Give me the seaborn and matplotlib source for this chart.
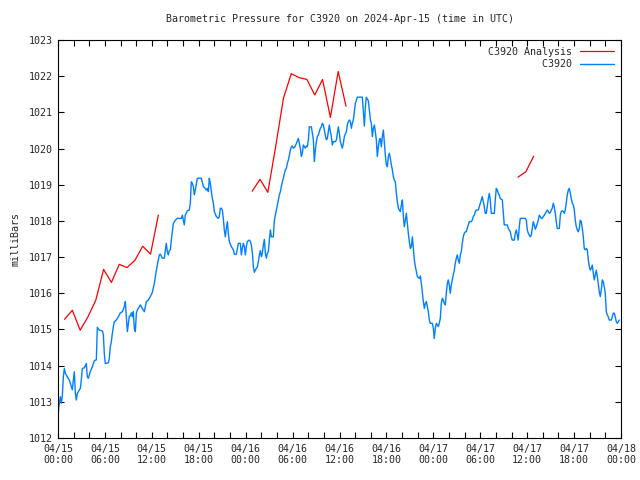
import numpy as np
import pandas as pd
import matplotlib
matplotlib.use("Agg")
import matplotlib.pyplot as plt
import matplotlib.dates as mdates
from matplotlib.ticker import MultipleLocator
import seaborn as sns

# DATA (hours after 2024-04-15 00:00 UTC, pressure in mb)
obs_hours = [
    0.04, 0.17, 0.30, 0.43, 0.55, 0.68, 0.81, 0.94, 1.19, 1.45, 1.70, 1.83, 1.96, 2.09, 2.22, 2.34,
    2.47, 2.73, 2.86, 2.98, 3.11, 3.37, 3.62, 3.75, 3.88, 4.13, 4.39, 4.52, 4.65, 4.90, 5.03, 5.29,
    5.67, 5.80, 5.92, 6.05, 6.44, 6.56, 6.69, 6.82, 6.95, 7.08, 7.20, 7.46, 7.72, 7.97, 8.23, 8.48,
    8.61, 8.74, 8.87, 9.00, 9.12, 9.25, 9.38, 9.51, 9.63, 9.76, 9.89, 10.02, 10.15, 10.40, 10.53,
    10.78, 11.04, 11.17, 11.30, 11.55, 11.81, 12.06, 12.19, 12.32, 12.45, 12.58, 12.70, 12.83,
    12.96, 13.09, 13.34, 13.60, 13.73, 13.85, 13.98, 14.11, 14.24, 14.37, 14.49, 14.62, 14.75,
    15.01, 15.26, 15.52, 15.77, 15.90, 16.03, 16.15, 16.28, 16.54, 16.79, 16.92, 17.05, 17.18,
    17.31, 17.43, 17.56, 17.82, 18.33, 18.59, 18.84, 18.97, 19.10, 19.23, 19.35, 19.48, 19.61,
    19.74, 19.87, 19.99, 20.25, 20.50, 20.63, 20.76, 20.89, 21.02, 21.14, 21.27, 21.40, 21.53,
    21.66, 21.78, 21.91, 22.17, 22.43, 22.55, 22.81, 22.94, 23.06, 23.32, 23.45, 23.57, 23.70,
    23.83, 23.96, 24.08, 24.21, 24.47,
    24.60, 24.73, 24.86, 24.98, 25.11, 25.24, 25.50, 25.62, 25.75, 25.88, 26.01, 26.13, 26.26,
    26.39, 26.52, 26.65, 26.77, 26.90, 27.03, 27.16, 27.29, 27.54, 27.67, 27.80, 27.92, 28.05,
    28.18, 28.31, 28.44, 28.56, 28.69, 28.82, 28.95, 29.08, 29.20, 29.33, 29.46, 29.59, 29.72,
    29.84, 29.97, 30.10, 30.23, 30.35, 30.48, 30.74, 30.87, 30.99, 31.12, 31.25, 31.38, 31.51,
    31.63, 31.76, 31.89, 32.02, 32.14, 32.40, 32.53, 32.66, 32.78, 32.91, 33.04, 33.17, 33.30,
    33.42, 33.55, 33.68, 33.81, 33.94, 34.06, 34.19, 34.32, 34.45, 34.57, 34.70, 34.83, 34.96,
    35.09, 35.21, 35.47, 35.60, 35.73, 35.85, 35.98, 36.11, 36.24, 36.36, 36.49, 36.62, 36.88,
    37.00, 37.13, 37.26, 37.39, 37.52, 37.64, 37.77, 37.90, 38.03, 38.28, 38.92, 39.05, 39.18,
    39.31, 39.43, 39.69, 39.82, 39.95, 40.07, 40.20, 40.33, 40.46, 40.58, 40.71, 40.84, 40.97,
    41.10, 41.22, 41.35, 41.48, 41.61, 41.74, 41.86, 41.99, 42.12, 42.25, 42.38, 42.50, 42.63,
    42.76, 42.89, 43.01, 43.14, 43.27, 43.40, 43.53, 43.65, 43.78, 43.91, 44.04, 44.17, 44.29,
    44.42, 44.55, 44.68, 44.80, 44.93, 45.06, 45.19, 45.32, 45.44, 45.57, 45.70, 45.83, 45.96,
    46.21, 46.34, 46.47, 46.60, 46.72, 46.85, 46.98, 47.11, 47.23, 47.36, 47.49,
    47.61, 47.87, 48.00, 48.12, 48.25, 48.38, 48.51, 48.63, 48.76, 48.89, 49.02, 49.15, 49.27,
    49.40, 49.53, 49.66, 49.79, 49.91, 50.04, 50.17, 50.30, 50.42, 50.55, 50.68, 50.81, 50.94,
    51.06, 51.19, 51.32, 51.45, 51.58, 51.70, 51.83, 51.96, 52.09, 52.21, 52.34, 52.47, 52.60,
    52.85, 52.98, 53.11, 53.24, 53.37, 53.49, 53.75, 53.88, 54.01, 54.13, 54.26, 54.39, 54.52,
    54.64, 54.77, 54.90, 55.03, 55.16, 55.28, 55.41, 55.67, 55.80, 55.92, 56.05, 56.18, 56.31,
    56.43, 56.56, 56.82, 56.95, 57.07, 57.46, 57.59, 57.71, 57.84, 57.97, 58.10, 58.35, 58.48,
    58.61, 58.74, 58.86, 58.99, 59.12, 59.76, 59.89, 60.02, 60.14, 60.27, 60.40, 60.53, 60.65,
    60.78, 60.91, 61.04, 61.17, 61.29, 61.42, 61.55, 61.68, 61.81, 61.93, 62.06, 62.19, 62.32,
    62.45, 62.57, 62.70, 62.83, 62.96, 63.08, 63.21, 63.34, 63.47, 63.60, 63.72, 63.85, 64.11,
    64.24, 64.36, 64.49, 64.62, 64.75, 64.87, 65.00, 65.13, 65.26, 65.39, 65.51, 65.64, 65.77,
    65.90, 66.03, 66.15, 66.28, 66.41, 66.54, 66.67, 66.79, 66.92, 67.05, 67.18, 67.30, 67.43,
    67.56, 67.69, 67.82, 67.94, 68.07, 68.20, 68.33, 68.46, 68.58, 68.71, 68.84, 68.97, 69.09,
    69.22, 69.35, 69.48, 69.61, 69.73, 69.86, 69.99, 70.12, 70.25, 70.37, 70.50, 70.76, 70.89,
    71.01, 71.14, 71.27, 71.40, 71.52, 71.65, 71.78,
]
obs_mb = [
    1012.70, 1012.96, 1013.14, 1012.96, 1013.16, 1013.69, 1013.92, 1013.79, 1013.69, 1013.60,
    1013.42, 1013.33, 1013.60, 1013.83, 1013.23, 1013.05, 1013.23, 1013.33, 1013.37, 1013.60,
    1013.92, 1013.94, 1014.06, 1013.69, 1013.65, 1013.83, 1013.97, 1014.06, 1014.14, 1014.16,
    1015.06, 1014.98, 1014.96, 1014.86, 1014.34, 1014.06, 1014.08, 1014.20, 1014.52, 1014.66,
    1014.89, 1015.08, 1015.21, 1015.26, 1015.35, 1015.46, 1015.49, 1015.63, 1015.77, 1015.35,
    1014.94, 1015.17, 1015.37, 1015.37, 1015.46, 1015.35, 1015.49, 1015.03, 1014.94, 1015.45,
    1015.54, 1015.63, 1015.68, 1015.58, 1015.49, 1015.63, 1015.77, 1015.81, 1015.91, 1016.02,
    1016.14, 1016.27, 1016.46, 1016.64, 1016.78, 1016.92, 1017.06, 1017.08, 1016.97, 1016.97,
    1017.20, 1017.38, 1017.15, 1017.06, 1017.18, 1017.20, 1017.47, 1017.70, 1017.93, 1018.02,
    1018.07, 1018.07, 1018.07, 1018.16, 1018.02, 1017.89, 1018.16, 1018.28, 1018.30, 1018.49,
    1019.08, 1019.04, 1018.95, 1018.72, 1018.85, 1019.18, 1019.18, 1018.95, 1018.90, 1018.85,
    1018.90, 1018.81, 1019.18, 1019.04, 1018.81, 1018.62, 1018.49, 1018.26, 1018.12, 1018.07,
    1018.12, 1018.35, 1018.35, 1018.30, 1018.07, 1017.75, 1017.56, 1017.79, 1017.98, 1017.66,
    1017.43, 1017.29, 1017.20, 1017.08, 1017.08, 1017.24, 1017.38, 1017.38, 1017.06, 1017.24,
    1017.38, 1017.29, 1017.06, 1017.29, 1017.43, 1017.47,
    1017.43, 1017.33, 1017.10, 1016.74, 1016.58, 1016.64, 1016.74, 1016.87, 1017.06, 1017.18,
    1017.01, 1017.10, 1017.33, 1017.49, 1017.10, 1016.97, 1017.10, 1017.15, 1017.47, 1017.75,
    1017.56, 1017.56, 1018.02, 1018.16, 1018.30, 1018.44, 1018.58, 1018.72, 1018.81, 1018.95,
    1019.08, 1019.18, 1019.31, 1019.41, 1019.45, 1019.59, 1019.68, 1019.82, 1019.96, 1020.05,
    1020.07, 1020.01, 1020.03, 1020.07, 1020.14, 1020.28, 1020.14, 1020.01, 1019.78, 1019.87,
    1020.10, 1020.05, 1020.01, 1020.07, 1020.05, 1020.24, 1020.60, 1020.60, 1020.42, 1020.24,
    1019.64, 1019.96, 1020.19, 1020.33, 1020.37, 1020.47, 1020.56, 1020.60, 1020.70, 1020.65,
    1020.51, 1020.37, 1020.24, 1020.28, 1020.47, 1020.65, 1020.47, 1020.33, 1020.10, 1020.19,
    1020.19, 1020.24, 1020.42, 1020.60, 1020.42, 1020.19, 1020.10, 1020.01, 1020.14, 1020.33,
    1020.47, 1020.65, 1020.74, 1020.79, 1020.74, 1020.56, 1020.70, 1020.79, 1021.02, 1021.25,
    1021.42, 1021.42, 1021.02, 1020.62, 1021.16, 1021.42, 1021.32, 1021.05, 1020.79, 1020.70,
    1020.33, 1020.56, 1020.65, 1020.47, 1020.24, 1019.78, 1020.05, 1020.24, 1020.28, 1020.05,
    1020.33, 1020.51, 1020.14, 1019.82, 1019.55, 1019.50, 1019.78, 1019.87, 1019.73, 1019.55,
    1019.41, 1019.22, 1019.13, 1019.08, 1018.76, 1018.53, 1018.35, 1018.30, 1018.26, 1018.44,
    1018.58, 1018.12, 1017.84, 1018.02, 1018.21, 1017.93, 1017.66, 1017.43, 1017.24, 1017.29,
    1017.56, 1017.24, 1016.92, 1016.74, 1016.60, 1016.46, 1016.41, 1016.48, 1016.27, 1016.00,
    1015.77, 1015.58, 1015.72, 1015.77, 1015.63, 1015.49, 1015.26,
    1015.17, 1015.17, 1015.03, 1014.75, 1015.03, 1015.17, 1015.12, 1015.08, 1015.17, 1015.31,
    1015.72, 1015.86, 1015.81, 1015.72, 1015.68, 1016.00, 1016.27, 1016.37, 1016.23, 1016.00,
    1016.23, 1016.37, 1016.50, 1016.64, 1016.83, 1016.97, 1017.06, 1016.92, 1016.83, 1017.06,
    1017.15, 1017.38, 1017.56, 1017.66, 1017.70, 1017.70, 1017.79, 1017.89, 1017.98, 1017.98,
    1018.02, 1018.12, 1018.16, 1018.26, 1018.30, 1018.30, 1018.39, 1018.49, 1018.58, 1018.67,
    1018.53, 1018.39, 1018.21, 1018.21, 1018.39, 1018.62, 1018.76, 1018.58, 1018.21, 1018.21,
    1018.21, 1018.58, 1018.90, 1018.85, 1018.76, 1018.72, 1018.62, 1018.58, 1018.21, 1017.89,
    1017.89, 1017.79, 1017.75, 1017.70, 1017.56, 1017.47, 1017.47, 1017.66, 1017.75, 1017.61,
    1017.47, 1017.84, 1018.07, 1018.07, 1018.02, 1017.75, 1017.66, 1017.61, 1017.56, 1017.61,
    1017.79, 1017.98, 1017.89, 1017.77, 1017.84, 1017.93, 1018.02, 1018.16, 1018.12, 1018.07,
    1018.07, 1018.12, 1018.16, 1018.21, 1018.26, 1018.30, 1018.26, 1018.21, 1018.23, 1018.30,
    1018.35, 1018.49, 1018.39, 1018.21, 1017.98, 1017.79, 1017.79, 1018.16, 1018.26, 1018.28,
    1018.26, 1018.21, 1018.30, 1018.49, 1018.72, 1018.85, 1018.90, 1018.76, 1018.62, 1018.49,
    1018.44, 1018.30, 1018.02, 1017.84, 1017.75, 1017.70, 1017.79, 1018.02, 1017.98, 1017.79,
    1017.56, 1017.24, 1017.20, 1017.24, 1017.20, 1016.92, 1016.74, 1016.64, 1016.69, 1016.78,
    1016.55, 1016.37, 1016.50, 1016.64, 1016.46, 1016.27, 1016.04, 1015.91, 1016.09, 1016.37,
    1016.32, 1016.18, 1016.00, 1015.49, 1015.40, 1015.35, 1015.26, 1015.26, 1015.35, 1015.45,
    1015.45, 1015.35, 1015.21, 1015.17, 1015.21, 1015.26,
]

# analysis runs: hourly values at :50, three separate stretches
ana_start_hours = [0, 24, 58]
ana_runs = [
    [1015.28, 1015.53, 1014.98, 1015.35, 1015.81, 1016.66, 1016.30, 1016.80, 1016.71,
     1016.91, 1017.30, 1017.08, 1018.16],
    [1018.82, 1019.15, 1018.79, 1020.05, 1021.39, 1022.07, 1021.96, 1021.91, 1021.48,
     1021.91, 1020.86, 1022.13, 1021.17],
    [1019.21, 1019.36, 1019.79],
]

start = pd.Timestamp("2024-04-15 00:00")

obs = pd.DataFrame({
    "time": start + pd.to_timedelta(obs_hours, unit="h"),
    "mb": obs_mb,
})

rows = []
for run_id, (h0, vals) in enumerate(zip(ana_start_hours, ana_runs)):
    for k, v in enumerate(vals):
        rows.append({"time": start + pd.Timedelta(hours=h0 + k, minutes=50),
                     "mb": v, "run": run_id})
ana = pd.DataFrame(rows)

# PLOT
sns.set_style("ticks")
plt.rcParams["font.family"] = ["DejaVu Sans Mono"]
plt.rcParams["font.size"] = 7.2

fig = plt.figure(figsize=(6.4, 4.8), dpi=100)
ax = fig.add_axes([58 / 640, 1 - 438 / 480, (621 - 58) / 640, (438 - 40) / 480])

sns.lineplot(data=ana, x="time", y="mb", units="run", estimator=None,
             color="#ff0000", lw=0.9, ax=ax, label="C3920 Analysis")
sns.lineplot(data=obs, x="time", y="mb", estimator=None,
             color="#0080ff", lw=1.0, ax=ax, label="         C3920")

ax.set_xlim(start, start + pd.Timedelta(hours=72))
ax.set_ylim(1012, 1023)
ax.yaxis.set_major_locator(MultipleLocator(1))
ax.yaxis.set_major_formatter(plt.FuncFormatter(lambda v, p: f"{v:.0f}"))
ax.xaxis.set_major_locator(mdates.HourLocator(byhour=[0, 6, 12, 18]))
ax.xaxis.set_minor_locator(mdates.HourLocator(byhour=range(0, 24, 2)))
ax.xaxis.set_major_formatter(mdates.DateFormatter("%m/%d\n%H:%M"))

ax.tick_params(which="both", direction="in", top=True, right=True,
               length=4, width=0.8, color="black", labelsize=7.2, pad=4)
ax.tick_params(axis="x", which="minor", length=4)
for s in ax.spines.values():
    s.set_linewidth(0.8)
    s.set_color("black")

ax.set_xlabel("")
ax.set_ylabel("milliBars", fontsize=7.2, labelpad=6)
ax.set_title("Barometric Pressure for C3920 on 2024-Apr-15 (time in UTC)",
             fontsize=7.2, pad=13)

# one legend entry per series (the analysis runs share a label)
handles, labels = ax.get_legend_handles_labels()
uniq = dict(zip(labels, handles))
ax.legend(uniq.values(), uniq.keys(), loc="upper right", frameon=False,
          markerfirst=False, fontsize=7.2, handlelength=3.4, handletextpad=0.8,
          labelspacing=0.25, borderaxespad=0.3)

plt.savefig("out.png", dpi=100)
